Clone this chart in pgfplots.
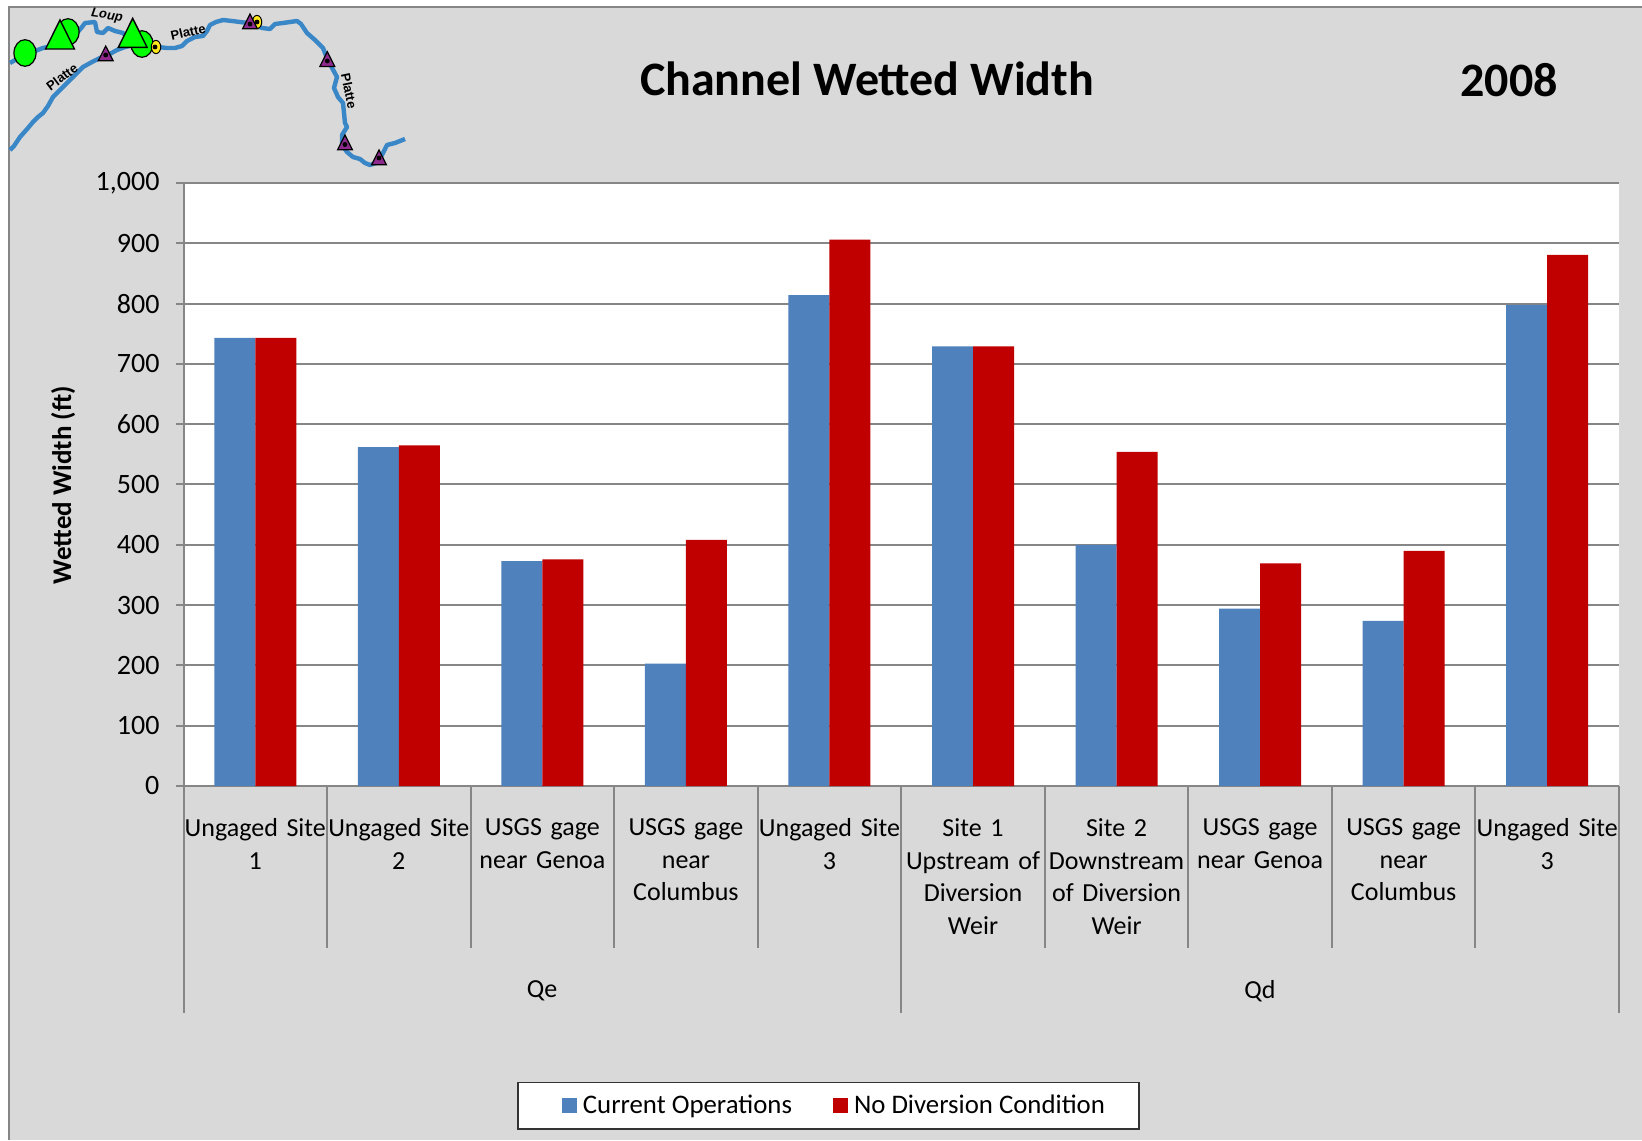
\documentclass[border=0pt]{standalone}
\usepackage{fontspec}
\setmainfont{Carlito}
\newfontfamily\mapfont{Liberation Sans}
\usepackage{pgfplots}
\pgfplotsset{compat=1.18}
\definecolor{panel}{HTML}{D9D9D9}
\definecolor{rule}{HTML}{868686}
\definecolor{blueop}{HTML}{4F81BD}
\definecolor{rednd}{HTML}{C00000}
\definecolor{river}{HTML}{3A87C8}
\definecolor{siteg}{HTML}{00FF00}
\definecolor{sitey}{HTML}{FFE81A}
\definecolor{sitep}{HTML}{8E2A8E}
\pgfplotsset{square key/.style={legend image code/.code={\path (-7pt,0pt) (8.5pt,0pt); \fill[##1] (0pt,-3.7pt) rectangle (7.5pt,3.7pt);}}}
\begin{document}
\begin{tikzpicture}[x=1pt,y=1pt]
% page: 821 x 570 pt, grey panel with a white margin at top and left
\useasboundingbox (0,0) rectangle (821,570);
\fill[white] (0,0) rectangle (821,570);
\fill[panel] (4.5,0) rectangle (821,566.5);
\draw[rule,line width=1pt] (4.5,0) -- (4.5,566.5) -- (821,566.5);

\begin{axis}[
  at={(91.75pt,177pt)}, anchor=south west,
  scale only axis, width=717.75pt, height=301.5pt,
  xmin=-0.5, xmax=9.5, ymin=0, ymax=1000,
  axis background/.style={fill=white},
  axis x line*=bottom, axis y line*=left,
  axis line style={rule,line width=1pt,-},
  ytick={0,100,...,1000},
  ymajorgrids, grid style={rule,line width=1pt},
  y tick style={rule,line width=1pt},
  tick align=outside, major tick length=4pt,
  x tick style={draw=none},
  /pgf/number format/assume math mode=true,
  /pgf/number format/.cd, 1000 sep={,}, /pgfplots/.cd,
  ticklabel style={black},
  y tick label style={font=\fontsize{14}{16.2}\selectfont,xshift=-4.5pt},
  xtick={0,...,9},
  xticklabels={{Ungaged Site\\1},{Ungaged Site\\2},{USGS gage\\near Genoa},{USGS gage\\near\\Columbus},{Ungaged Site\\3},
    {Site 1\\Upstream of\\Diversion\\Weir},{Site 2\\Downstream\\of Diversion\\Weir},{USGS gage\\near Genoa},{USGS gage\\near\\Columbus},{Ungaged Site\\3}},
  x tick label style={font=\fontsize{13}{16.3}\selectfont,align=center,text width=71.75pt,anchor=north,inner sep=0pt,yshift=-12.2pt},
  ylabel={\fontsize{13.5}{16}\selectfont\bfseries Wetted Width (ft)},
  ylabel style={at={(axis description cs:-0.0838,0.499)},anchor=center},
  legend columns=2,
  legend style={at={(axis description cs:0.4493,-0.5300)},anchor=center,draw=black!80,line width=0.6pt,fill=white,
    font=\fontsize{13.4}{16}\selectfont,inner xsep=15pt,inner ysep=4.3pt,
    /tikz/every even column/.append style={column sep=11.5pt}},
  ybar, bar width=20.5pt,
]
\addplot[square key,fill=blueop,draw=none,bar shift=-10.25pt] coordinates {
  (0,743)(1,562)(2,373)(3,203)(4,814)(5,729)(6,400)(7,294)(8,274)(9,798)};
\addlegendentry{Current Operations}
\addplot[square key,fill=rednd,draw=none,bar shift=10.25pt] coordinates {
  (0,743)(1,565)(2,376)(3,408)(4,906)(5,729)(6,554)(7,369)(8,390)(9,881)};
\addlegendentry{No Diversion Condition}
\end{axis}

% overlay in page pixels: category dividers, headings and the river map
\begin{axis}[
  at={(0pt,0pt)}, anchor=south west,
  scale only axis, width=821pt, height=570pt,
  xmin=0, xmax=1642, ymin=0, ymax=1140, y dir=reverse,
  axis lines=none, clip=false,
]
% dividers under the category axis
\foreach \x in {327,470.5,614,757.5,1044.5,1188,1331.5,1475}{
  \edef\tmp{\noexpand\draw[rule,line width=1pt] (axis cs:\x,786) -- (axis cs:\x,948);}\tmp}
\foreach \x in {183.5,901,1619}{
  \edef\tmp{\noexpand\draw[rule,line width=1pt] (axis cs:\x,786) -- (axis cs:\x,1013);}\tmp}
\node[font=\fontsize{13}{16}\selectfont] at (axis cs:542,991) {Qe};
\node[font=\fontsize{13}{16}\selectfont] at (axis cs:1260,991) {Qd};
\node[font=\fontsize{24}{28}\selectfont\bfseries] at (axis cs:867,79) {Channel Wetted Width};
\node[font=\fontsize{24}{28}\selectfont\bfseries] at (axis cs:1509,80) {2008};

% Platte
\addplot[river,line width=2.2pt,line join=round] coordinates {
 (10,150)(14,146)(20,137)(28,128)(33,122)(38,117)(43,113)(48,106)(53,97)(60,90)(67,83)(75,75)(83,67)(92,62)(100,58)(108,55)(117,50)(125,47)(133,45)(142,44)(150,45)(158,47)(167,48)(175,48)(182,46)(187,41)(195,37)(203,36)(207,31)(210,25)(216,22)(223,20)(232,21)(240,22)(248,23)(255,25)(262,28)(270,29)(275,24)(283,23)(297,21)(301,24)(307,33)(315,40)(323,48)(327,58)(331,66)(337,77)(334,88)(338,97)(343,103)(344,113)(345,123)(347,127)(342,135)(342,145)(347,152)(353,157)(360,159)(365,163)(370,165)(376,163)(382,155)(387,145)(395,143)(400,141)(405,139)};
% Loup
\addplot[river,line width=2.2pt,line join=round] coordinates {
 (10,63)(17,59)(25,55)(35,51)(43,48)(52,46)(60,42)(70,38)(77,33)(82,27)(85,23)(95,22)(97,32)(103,33)(108,28)(115,31)(123,33)(133,43)};

% gauge and site markers
\addplot[only marks,mark=*,mark size=6.65pt,mark options={xscale=0.83,fill=siteg,draw=black,line width=0.6pt}]
  coordinates {(25,53)(68,32)(142,44)};
\addplot[only marks,mark=*,mark size=3.3pt,mark options={xscale=0.72,fill=sitey,draw=black,line width=0.5pt}]
  coordinates {(156,47)(257,22)};
\addplot[only marks,mark=*,mark size=1pt,mark options={fill=black,draw=black}]
  coordinates {(155,47)(257,22)};
\addplot[only marks,mark=triangle*,mark size=9.67pt,mark options={xscale=0.86,fill=siteg,draw=black,line width=0.7pt}]
  coordinates {(60,39.3)(132.7,37.7)};
\addplot[only marks,mark=triangle*,mark size=4.9pt,mark options={xscale=0.87,fill=sitep,draw=black,line width=0.6pt}]
  coordinates {(105.7,55.8)(250,23.8)(327.3,61.5)(345,144.8)(379,159.8)};
\addplot[only marks,mark=*,mark size=1pt,mark options={fill=black,draw=black}]
  coordinates {(105.7,55)(250,24)(327.3,61)(345,144.5)(379,158)};

\node[font=\mapfont\fontsize{6.5}{8}\selectfont\bfseries\itshape,rotate=-8] at (axis cs:107,16) {Loup};
\node[font=\mapfont\fontsize{6.5}{8}\selectfont\bfseries,rotate=37] at (axis cs:62,77) {Platte};
\node[font=\mapfont\fontsize{6.5}{8}\selectfont\bfseries,rotate=13] at (axis cs:188,32) {Platte};
\node[font=\mapfont\fontsize{6.5}{8}\selectfont\bfseries,rotate=-78] at (axis cs:349,91) {Platte};
\end{axis}
\end{tikzpicture}
\end{document}
